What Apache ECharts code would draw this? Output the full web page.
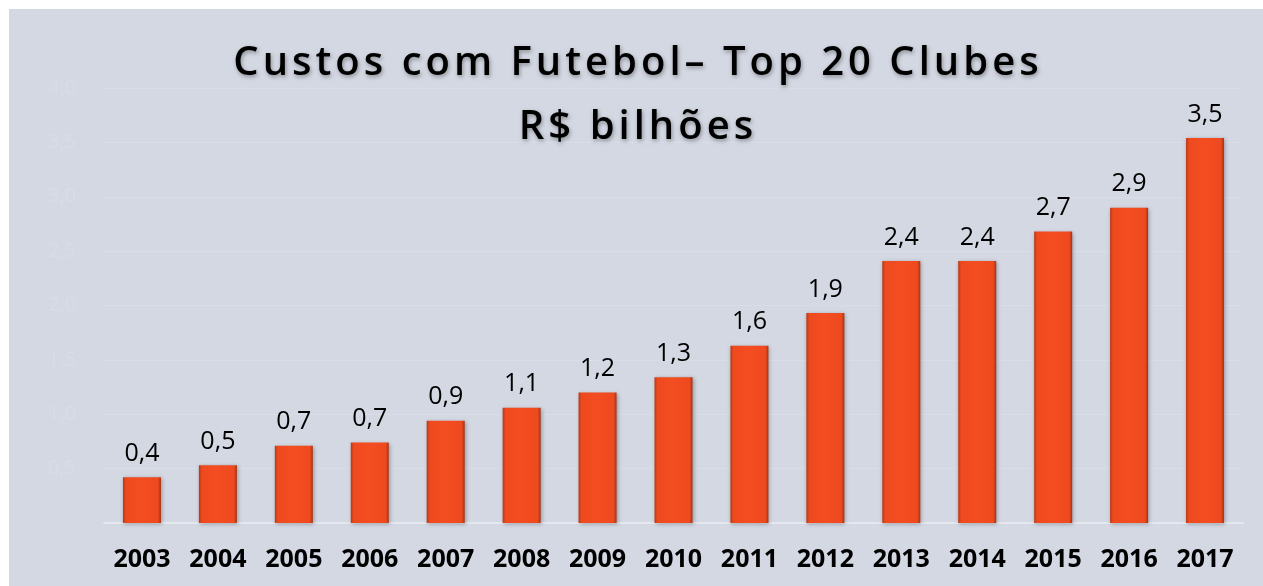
<!DOCTYPE html>
<html>
<head>
<meta charset="utf-8">
<script src="https://cdn.jsdelivr.net/npm/echarts@6/dist/echarts.min.js"></script>
<style>
  html, body { margin: 0; padding: 0; background: #ffffff; }
  #chart { position: absolute; left: 9px; top: 9px; width: 1254px; height: 577px; background: #d3d8e3; }
</style>
</head>
<body>
<div id="chart"></div>
<script>
// dados (R$ bilhões)
const anos = ['2003','2004','2005','2006','2007','2008','2009','2010','2011','2012','2013','2014','2015','2016','2017'];
const custos = [0.42, 0.53, 0.71, 0.74, 0.94, 1.06, 1.20, 1.34, 1.63, 1.93, 2.41, 2.41, 2.68, 2.90, 3.54];
const tituloLinhas = ['Custos com Futebol– Top 20 Clubes', 'R$ bilhões'];

const fmt = v => v.toFixed(1).replace('.', ',');

// título espaçado: cada letra vira um token rich com um pouco de padding
const espacar = s => s.split('').map(c => '{t|' + c + '}').join('');

let mychart = echarts.init(document.getElementById('chart'));
mychart.setOption({
  backgroundColor: '#d3d8e3',
  title: {
    text: tituloLinhas.map(espacar).join('\n'),
    left: 'center',
    top: 18,
    textStyle: {
      rich: {
        t: {
          fontFamily: 'Open Sans',
          fontSize: 40,
          fontWeight: 600,
          color: '#000000',
          lineHeight: 64,
          padding: [0, 2],
          textShadowColor: 'rgba(0,0,0,0.35)',
          textShadowBlur: 4,
          textShadowOffsetX: 1,
          textShadowOffsetY: 2
        }
      }
    }
  },
  grid: { left: 95, right: 20, top: 79, bottom: 63 },
  xAxis: {
    type: 'category',
    data: anos,
    axisLine: { show: true, lineStyle: { color: '#e4e7ee', width: 2 } },
    axisTick: { show: false },
    axisLabel: {
      margin: 24,
      fontFamily: 'Open Sans',
      fontSize: 25,
      fontWeight: 'bold',
      color: '#000000'
    }
  },
  yAxis: {
    type: 'value',
    min: 0,
    max: 4,
    interval: 0.5,
    axisLine: { show: false },
    axisTick: { show: false },
    splitLine: { lineStyle: { color: '#d9dde7', width: 1 } },
    axisLabel: {
      margin: 28,
      fontFamily: 'Open Sans',
      fontSize: 20,
      color: '#d9dce6',
      formatter: v => v === 0 ? '-' : fmt(v)
    }
  },
  series: [
    {
      type: 'bar',
      data: custos,
      barWidth: 38,
      label: {
        show: true,
        position: 'top',
        distance: 11,
        fontFamily: 'Open Sans',
        fontSize: 25,
        color: '#000000',
        formatter: p => fmt(p.value)
      },
      itemStyle: {
        color: new echarts.graphic.LinearGradient(0, 0, 1, 0, [
          { offset: 0, color: '#b93814' },
          { offset: 0.08, color: '#ee4a1f' },
          { offset: 0.5, color: '#f44d21' },
          { offset: 0.92, color: '#ee4a1f' },
          { offset: 1, color: '#a8310f' }
        ]),
        shadowColor: 'rgba(0,0,0,0.3)',
        shadowBlur: 4,
        shadowOffsetX: 1,
        shadowOffsetY: 1
      }
    }
  ]
});
</script>
</body>
</html>
